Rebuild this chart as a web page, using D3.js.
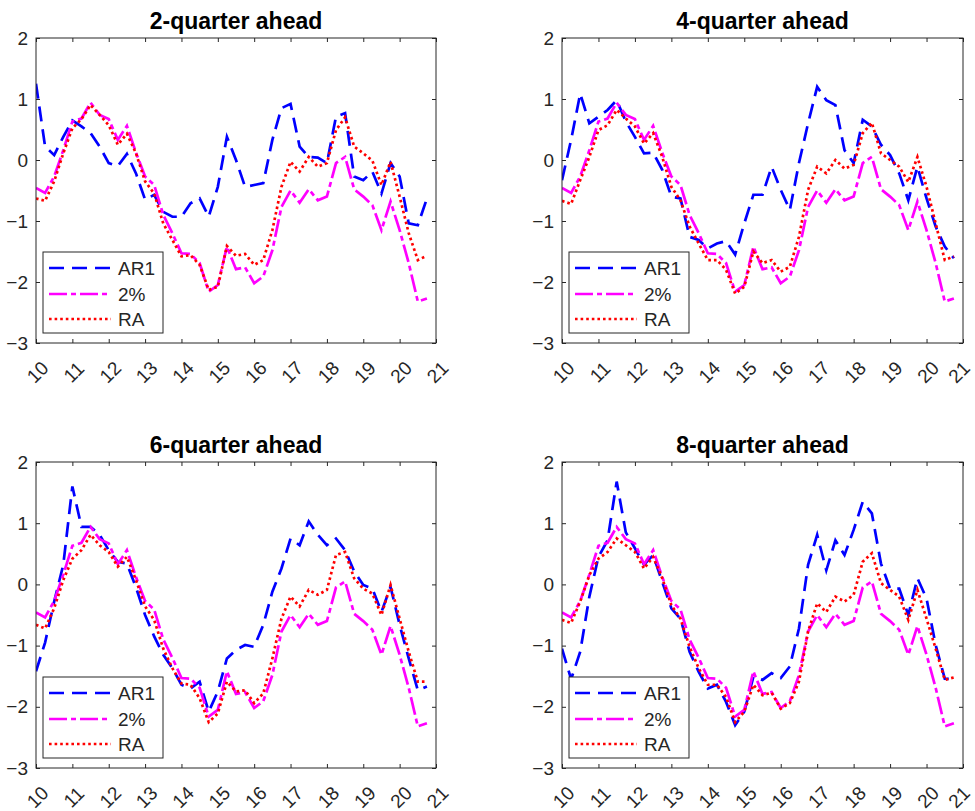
<!DOCTYPE html>
<html>
<head>
<meta charset="utf-8">
<script src="https://cdn.jsdelivr.net/npm/d3@7"></script>
<style>
  body { margin: 0; background: #fff; }
  text { font-family: "Liberation Sans", Arial, Helvetica, sans-serif; }
</style>
</head>
<body>
<svg id="chart" width="975" height="811"></svg>
<script>
// Forecast horizons, one panel each
const horizons = ["2-quarter ahead", "4-quarter ahead", "6-quarter ahead", "8-quarter ahead"];
const seriesNames = ["AR1", "2%", "RA"];
const yTicks = [-3, -2, -1, 0, 1, 2];
const xTicks = [10, 11, 12, 13, 14, 15, 16, 17, 18, 19, 20, 21];

// Quarterly observations, 2010Q1 .. 2020Q4 (year shown as two digits)
const firstYear = 10;
const nQuarters = 44;
const dates = d3.range(nQuarters).map(i => firstYear + i / 4);

// 2% benchmark (identical at every horizon)
const twoPct = [-0.46,-0.54,-0.27,0.16,0.63,0.68,0.94,0.74,0.67,0.33,
                0.56,0.12,-0.27,-0.41,-0.9,-1.2,-1.53,-1.54,-1.69,-2.16,
                -2.05,-1.42,-1.79,-1.76,-2.02,-1.91,-1.48,-0.77,-0.5,-0.7,
                -0.48,-0.66,-0.6,-0.05,0.05,-0.48,-0.6,-0.74,-1.15,-0.68,
                -1.15,-1.69,-2.32,-2.27];

// AR1 model, by horizon
const ar1_h2 = [1.25,0.22,0.08,0.38,0.65,0.55,0.44,0.22,-0.05,-0.1,
                0.1,-0.22,-0.65,-0.57,-0.85,-0.93,-0.93,-0.71,-0.63,-0.93,
                -0.44,0.38,0.0,-0.44,-0.41,-0.38,0.33,0.85,0.92,0.22,
                0.05,0.04,-0.05,0.71,0.77,-0.27,-0.33,-0.19,-0.55,-0.05,
                -0.27,-1.04,-1.07,-0.63];
const ar1_h4 = [-0.33,0.33,1.09,0.6,0.71,0.82,0.98,0.63,0.38,0.11,
                0.12,-0.16,-0.6,-0.63,-1.26,-1.31,-1.45,-1.37,-1.33,-1.55,
                -1.04,-0.57,-0.57,-0.11,-0.49,-0.82,-0.05,0.6,1.2,0.98,
                0.9,0.16,-0.05,0.66,0.55,0.25,0.08,-0.22,-0.66,-0.11,
                -0.63,-1.09,-1.42,-1.61];
const ar1_h6 = [-1.42,-0.95,-0.28,0.32,1.6,0.94,0.94,0.81,0.56,0.37,
                0.34,-0.05,-0.5,-0.85,-1.15,-1.37,-1.64,-1.7,-1.59,-2.08,
                -1.75,-1.21,-1.07,-0.99,-1.02,-0.66,-0.12,0.26,0.75,0.64,
                1.03,0.81,0.64,0.75,0.56,0.21,-0.01,-0.07,-0.45,-0.04,
                -0.66,-1.21,-1.73,-1.67];
const ar1_h8 = [-1.05,-1.55,-1.1,-0.2,0.45,0.72,1.68,0.85,0.59,0.32,
                0.48,0.04,-0.39,-0.56,-1.1,-1.43,-1.7,-1.64,-1.92,-2.3,
                -2.08,-1.51,-1.56,-1.45,-1.53,-1.34,-0.72,0.32,0.81,0.23,
                0.72,0.48,0.89,1.35,1.16,0.34,-0.07,-0.07,-0.5,0.1,
                -0.23,-0.99,-1.54,-1.55];

// RA model, by horizon
const ra_h2 = [-0.63,-0.67,-0.35,0.11,0.52,0.67,0.9,0.74,0.57,0.25,
               0.43,0.11,-0.35,-0.55,-1.04,-1.31,-1.58,-1.56,-1.72,-2.13,
               -2.08,-1.41,-1.57,-1.54,-1.72,-1.64,-1.15,-0.44,-0.03,-0.19,
               0.05,-0.11,-0.05,0.49,0.7,0.22,0.11,-0.01,-0.41,-0.03,
               -0.6,-1.2,-1.64,-1.57];
const ra_h4 = [-0.67,-0.72,-0.33,0.05,0.49,0.57,0.82,0.68,0.55,0.27,
               0.44,0.05,-0.44,-0.66,-1.09,-1.37,-1.64,-1.64,-1.8,-2.19,
               -2.08,-1.5,-1.69,-1.64,-1.83,-1.75,-1.26,-0.49,-0.11,-0.22,
               0.0,-0.14,-0.08,0.44,0.61,0.11,0.0,-0.11,-0.36,0.05,
               -0.44,-1.04,-1.64,-1.58];
const ra_h6 = [-0.66,-0.72,-0.39,0.07,0.42,0.56,0.81,0.64,0.53,0.29,
               0.45,0.07,-0.36,-0.58,-1.05,-1.37,-1.62,-1.64,-1.86,-2.25,
               -2.11,-1.59,-1.75,-1.73,-1.94,-1.78,-1.21,-0.56,-0.2,-0.36,
               -0.09,-0.17,-0.09,0.48,0.53,0.1,-0.07,-0.15,-0.5,-0.01,
               -0.56,-1.1,-1.59,-1.59];
const ra_h8 = [-0.58,-0.63,-0.28,0.15,0.42,0.53,0.75,0.64,0.53,0.26,
               0.45,0.1,-0.34,-0.56,-1.02,-1.37,-1.64,-1.64,-1.84,-2.25,
               -2.08,-1.64,-1.81,-1.77,-2.03,-1.94,-1.59,-0.77,-0.31,-0.45,
               -0.2,-0.28,-0.17,0.37,0.51,0.02,-0.09,-0.2,-0.58,-0.09,
               -0.56,-1.05,-1.56,-1.52];

const ar1ByHorizon = [ar1_h2, ar1_h4, ar1_h6, ar1_h8];
const raByHorizon = [ra_h2, ra_h4, ra_h6, ra_h8];

// Panel frames (plot area in pixels)
const frames = [
  { left: 36,  right: 436, top: 38,  bottom: 343 },
  { left: 562, right: 963, top: 38,  bottom: 343 },
  { left: 36,  right: 436, top: 462, bottom: 768 },
  { left: 562, right: 963, top: 462, bottom: 768 }
];

const styles = [
  { color: "#0000ff", dash: "15,8" },
  { color: "#ff00ff", dash: "18,4,5,4" },
  { color: "#ff0000", dash: "2.6,3" }
];
const axisColor = "#262626";
const svgWidth = 975;

const svg = d3.select("#chart");

horizons.forEach((title, p) => {
  const f = frames[p];
  const x = d3.scaleLinear().domain([10, 21]).range([f.left, f.right]);
  const y = d3.scaleLinear().domain([-3, 2]).range([f.bottom, f.top]);
  const g = svg.append("g");

  g.append("clipPath").attr("id", "clip" + p)
    .append("rect")
    .attr("x", f.left).attr("y", f.top)
    .attr("width", f.right - f.left).attr("height", f.bottom - f.top);

  // ticks on all four sides, pointing inward
  const bottomAxis = g.append("g")
    .attr("transform", `translate(0,${f.bottom})`)
    .call(d3.axisBottom(x).tickValues(xTicks).tickSize(-4).tickFormat(d3.format("d")));

  g.append("g")
    .attr("transform", `translate(0,${f.top})`)
    .call(d3.axisTop(x).tickValues(xTicks).tickSize(-4).tickFormat(""));

  g.append("g")
    .attr("transform", `translate(${f.left},0)`)
    .call(d3.axisLeft(y).tickValues(yTicks).tickSize(-4).tickPadding(8).tickFormat(d3.format("d")));

  g.append("g")
    .attr("transform", `translate(${f.right},0)`)
    .call(d3.axisRight(y).tickValues(yTicks).tickSize(-4).tickFormat(""));

  g.selectAll(".domain").remove();
  g.selectAll(".tick line").attr("stroke", axisColor);
  g.selectAll(".tick text")
    .attr("fill", axisColor)
    .style("font-size", "19px");

  // rotated year labels; keep the last one inside the page
  bottomAxis.selectAll("text")
    .attr("y", 0).attr("dy", "0.35em")
    .attr("text-anchor", "middle")
    .attr("transform", "translate(1,29) rotate(-45)")
    .each(function () {
      const box = this.getBoundingClientRect();
      const over = box.right - (svgWidth - 1);
      if (over > 0) {
        d3.select(this).attr("transform", `translate(${1 - over},29) rotate(-45)`);
      }
    });

  // series
  const line = d3.line().x((d, i) => x(dates[i])).y(d => y(d));
  const series = [ar1ByHorizon[p], twoPct, raByHorizon[p]];
  series.forEach((vals, s) => {
    g.append("path")
      .datum(vals)
      .attr("clip-path", `url(#clip${p})`)
      .attr("fill", "none")
      .attr("stroke", styles[s].color)
      .attr("stroke-width", 2.7)
      .attr("stroke-dasharray", styles[s].dash)
      .attr("stroke-linejoin", "miter")
      .attr("d", line);
  });

  // frame
  g.append("rect")
    .attr("x", f.left).attr("y", f.top)
    .attr("width", f.right - f.left).attr("height", f.bottom - f.top)
    .attr("fill", "none").attr("stroke", axisColor).attr("stroke-width", 1);

  // title
  g.append("text")
    .attr("x", (f.left + f.right) / 2)
    .attr("y", f.top - 9)
    .attr("text-anchor", "middle")
    .style("font-size", "23px")
    .style("font-weight", "bold")
    .attr("fill", "#000")
    .text(title);

  // legend
  const lg = g.append("g").attr("transform", `translate(${f.left + 7},${f.bottom - 91})`);
  lg.append("rect")
    .attr("width", 120).attr("height", 81)
    .attr("fill", "#fff").attr("stroke", axisColor).attr("stroke-width", 1);
  const rowY = [16, 42, 67];
  seriesNames.forEach((name, s) => {
    lg.append("line")
      .attr("x1", 6).attr("x2", 68)
      .attr("y1", rowY[s]).attr("y2", rowY[s])
      .attr("stroke", styles[s].color)
      .attr("stroke-width", 2.7)
      .attr("stroke-dasharray", styles[s].dash);
    lg.append("text")
      .attr("x", 75).attr("y", rowY[s])
      .attr("dy", "0.35em")
      .style("font-size", "19px")
      .attr("fill", axisColor)
      .text(name);
  });
});
</script>
</body>
</html>
